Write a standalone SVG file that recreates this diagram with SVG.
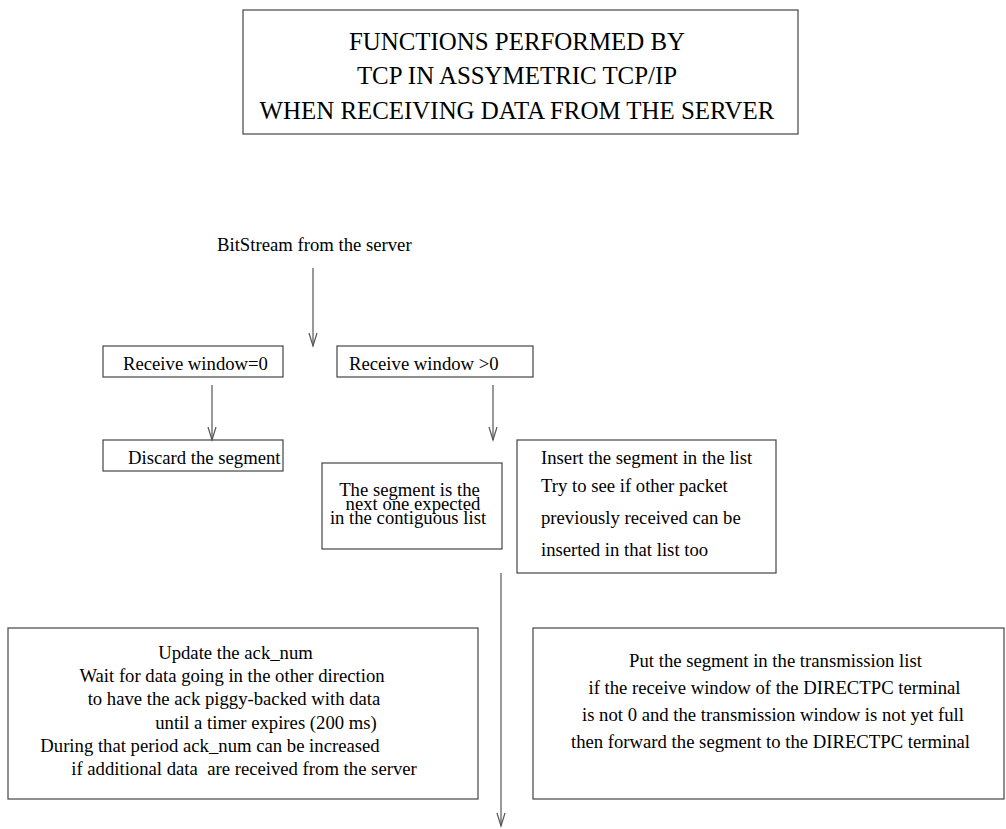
<svg xmlns="http://www.w3.org/2000/svg" width="1006" height="829" viewBox="0 0 1006 829">
<style>
.box{fill:#fff;stroke:#444;stroke-width:1.2}
.ln{fill:none;stroke:#555;stroke-width:1.2}
text{font-family:"Liberation Serif","Times New Roman",serif;font-size:18.7px;fill:#000}
.title{font-size:24.9px}
.m{text-anchor:middle}
</style>
<defs>
<marker id="ah" markerUnits="userSpaceOnUse" markerWidth="20" markerHeight="20" refX="0" refY="0" orient="auto" overflow="visible">
<path d="M-13,-4 L0,0 L-13,4" fill="none" stroke="#555" stroke-width="1.2"/>
</marker>
</defs>
<rect width="1006" height="829" fill="#fff"/>
<g id="title">
<rect class="box" x="243" y="10" width="555" height="124"/>
<text class="title m" x="517" y="49.5">FUNCTIONS PERFORMED BY</text>
<text class="title m" x="517" y="84">TCP IN ASSYMETRIC TCP/IP</text>
<text class="title m" x="517" y="118.5">WHEN RECEIVING DATA FROM THE SERVER</text>
</g>
<g id="bitstream">
<text x="217" y="251">BitStream from the server</text>
</g>
<g id="rw0">
<rect class="box" x="103" y="346" width="180" height="31"/>
<text x="123" y="370">Receive window=0</text>
</g>
<g id="rwgt0">
<rect class="box" x="337" y="346" width="196" height="31"/>
<text x="349" y="370">Receive window &gt;0</text>
</g>
<g id="discard">
<rect class="box" x="103" y="440" width="180" height="31"/>
<text x="128" y="464">Discard the segment</text>
</g>
<g id="expected">
<rect class="box" x="322" y="463" width="180" height="86"/>
<text class="m"><tspan x="409.5" y="496">The segment is the</tspan><tspan x="413" y="510">next one expected</tspan><tspan x="408" y="524">in the contiguous list</tspan></text>
</g>
<g id="insert">
<rect class="box" x="517" y="440" width="259" height="133"/>
<text x="541" y="464">Insert the segment in the list</text>
<text x="541" y="492">Try to see if other packet</text>
<text x="541" y="524">previously received can be</text>
<text x="541" y="556">inserted in that list too</text>
</g>
<g id="update">
<rect class="box" x="8" y="628" width="470" height="171"/>
<text class="m" x="235.5" y="659">Update the ack_num</text>
<text class="m" x="232" y="682">Wait for data going in the other direction</text>
<text class="m" x="234" y="705">to have the ack piggy-backed with data</text>
<text class="m" x="266" y="729">until a timer expires (200 ms)</text>
<text class="m" x="210" y="752">During that period ack_num can be increased</text>
<text class="m" x="244" y="775" xml:space="preserve">if additional data  are received from the server</text>
</g>
<g id="transmit">
<rect class="box" x="533" y="628" width="471" height="171"/>
<text class="m" x="775.5" y="667">Put the segment in the transmission list</text>
<text class="m" x="774.5" y="694">if the receive window of the DIRECTPC terminal</text>
<text class="m" x="773" y="721">is not 0 and the transmission window is not yet full</text>
<text class="m" x="770.5" y="748">then forward the segment to the DIRECTPC terminal</text>
</g>
<g id="connectors">
<line class="ln" x1="313" y1="268" x2="313" y2="346" marker-end="url(#ah)"/>
<line class="ln" x1="212" y1="385" x2="212" y2="440" marker-end="url(#ah)"/>
<line class="ln" x1="493" y1="385" x2="493" y2="440" marker-end="url(#ah)"/>
<line class="ln" x1="501" y1="573" x2="501" y2="826" marker-end="url(#ah)"/>
</g>
</svg>
